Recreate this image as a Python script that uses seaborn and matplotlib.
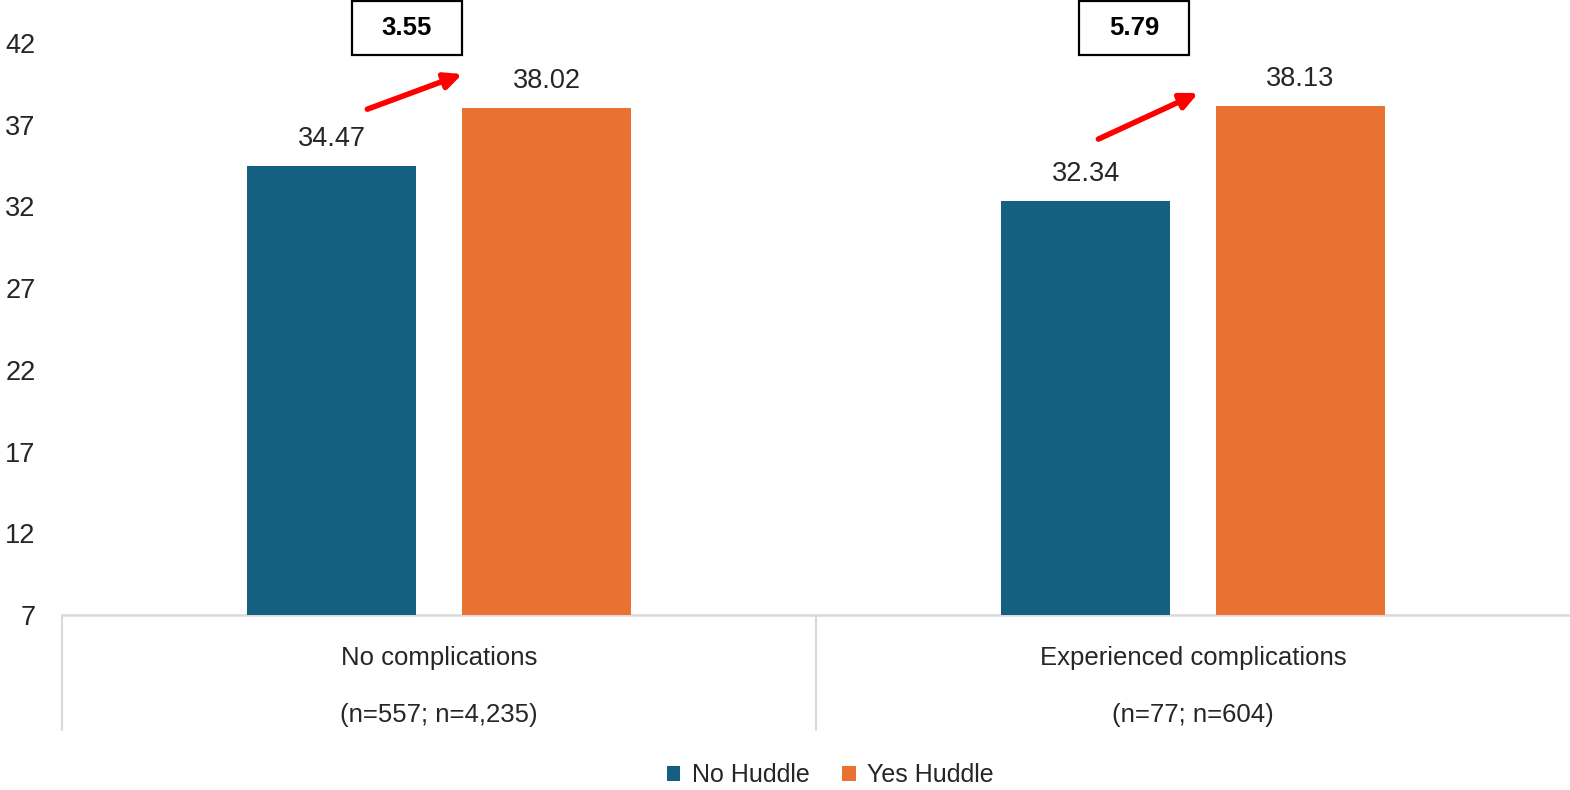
import matplotlib
matplotlib.use("Agg")
import matplotlib.pyplot as plt
from matplotlib.patches import Rectangle, Patch
import seaborn as sns
import pandas as pd

# ---- data ----
groups = ["No complications", "Experienced complications"]
sample_sizes = ["(n=557; n=4,235)", "(n=77; n=604)"]
series = ["No Huddle", "Yes Huddle"]
no_huddle = [34.47, 32.34]
yes_huddle = [38.02, 38.13]
differences = ["3.55", "5.79"]
yticks = [7, 12, 17, 22, 27, 32, 37, 42]

colors = {"No Huddle": "#156082", "Yes Huddle": "#E97132"}
text_color = "#262626"
line_color = "#D9D9D9"

df = pd.DataFrame({
    "group": groups * 2,
    "huddle": [series[0]] * len(groups) + [series[1]] * len(groups),
    "value": no_huddle + yes_huddle,
})

sns.set_theme(style="white")
plt.rcParams["font.family"] = ["Liberation Sans", "DejaVu Sans"]

fig = plt.figure(figsize=(15.7, 7.9), dpi=100)
ax = fig.add_axes([62 / 1570, 1 - 615 / 790, 1508 / 1570, (615 - 43) / 790])

sns.barplot(data=df, x="group", y="value", hue="huddle", order=groups,
            hue_order=series, palette=colors, saturation=1, width=0.570,
            gap=0.214, errorbar=None, linewidth=0, legend=False, ax=ax)

ax.set_ylim(7, 42)
ax.set_xlim(-0.5, 1.5)
ax.set_yticks(yticks)
ax.set_yticklabels([str(t) for t in yticks], fontsize=19.5, color=text_color)
ax.tick_params(axis="y", length=0, pad=19)
ax.set_xticks([])
ax.set_xlabel("")
ax.set_ylabel("")
for s in ax.spines.values():
    s.set_visible(False)

# baseline and category table lines
ax.axhline(7, color=line_color, lw=1.8, clip_on=False, zorder=0)
xt = ax.get_xaxis_transform()
for xb in [-0.5, 0.5]:
    ax.plot([xb, xb], [0, -0.201], transform=xt, color=line_color, lw=1.5,
            clip_on=False)
for i, (g, n) in enumerate(zip(groups, sample_sizes)):
    ax.text(i, -0.075, g, transform=xt, ha="center", va="center",
            fontsize=18.5, color=text_color)
    ax.text(i, -0.174, n, transform=xt, ha="center", va="center",
            fontsize=18.5, color=text_color)

# value labels above each bar
for cont in ax.containers:
    for bar in cont:
        h = bar.get_height()
        ax.annotate(f"{h:.2f}", (bar.get_x() + bar.get_width() / 2, h),
                    xytext=(0, 19.5), textcoords="offset points",
                    ha="center", va="center", fontsize=19.5, color=text_color)

# difference boxes and arrows
arrow_starts = [(-0.095, 37.95), (0.8745, 36.12)]
arrow_ends = [(0.031, 40.10), (1.007, 38.94)]
box_centers = [-0.0424, 0.922]
for i, d in enumerate(differences):
    ax.annotate("", xy=arrow_ends[i], xytext=arrow_starts[i],
                arrowprops=dict(arrowstyle="-|>,head_length=0.85,head_width=0.4",
                                color="#FF0000", lw=4, shrinkA=0, shrinkB=0),
                annotation_clip=False)
    bw, bh = 0.146, 3.30
    ax.add_patch(Rectangle((box_centers[i] - bw / 2, 42.9 - bh / 2), bw, bh,
                           fill=False, edgecolor="black", lw=1.6, clip_on=False))
    ax.text(box_centers[i], 42.9, d, ha="center", va="center", fontsize=18.5,
            fontweight="bold", color="black")

handles = [Patch(facecolor=colors[s], edgecolor="none", label=s) for s in series]
fig.legend(handles=handles, loc="center", bbox_to_anchor=(830 / 1570, 1 - 775 / 790),
           ncol=2, frameon=False, fontsize=18, handlelength=0.55, handleheight=0.55,
           handletextpad=0.45, columnspacing=1.3, labelcolor=text_color)

fig.savefig("out.png", dpi=100, facecolor="white")
